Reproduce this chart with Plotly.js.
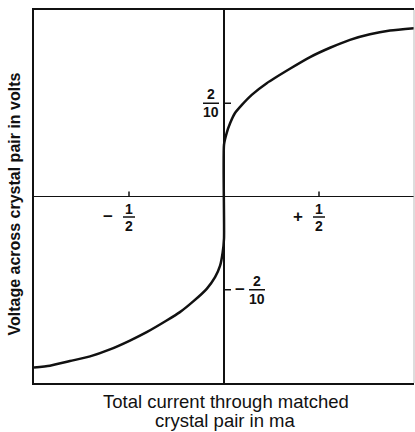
<!DOCTYPE html>
<html>
<head>
<meta charset="utf-8">
<script src="https://cdn.plot.ly/plotly-3.0.1.min.js"></script>
<style>html,body{margin:0;padding:0;background:#fff;}#chart{width:415px;height:432px;}</style>
</head>
<body>
<div id="chart"></div>
<script>
// Data (current in mA, voltage in V)
var currentMa = [-1.0, -0.916, -0.811, -0.705, -0.6, -0.495, -0.407, -0.302, -0.232, -0.162, -0.091, -0.047, -0.021, -0.007, 0,
                 0, 0.014, 0.032, 0.058, 0.093, 0.146, 0.225, 0.347, 0.453, 0.558, 0.663, 0.768, 0.874, 1.0];
var voltageV  = [-0.367, -0.363, -0.353, -0.343, -0.328, -0.309, -0.291, -0.266, -0.248, -0.225, -0.198, -0.173, -0.149, -0.120, -0.09,
                 0.111, 0.136, 0.157, 0.179, 0.196, 0.218, 0.243, 0.274, 0.299, 0.319, 0.336, 0.348, 0.356, 0.361];

// Tick labels (stacked fractions)
var xTickVals = [-0.5, 0.5];
var xTickSigns = ['\u2212', '+'];
var xTickNum = ['1', '1'];
var xTickDen = ['2', '2'];
var yTickVals = [0.2, -0.2];
var yTickSigns = ['', '\u2212'];
var yTickNum = ['2', '2'];
var yTickDen = ['10', '10'];

var xTitleLines = ['Total current through matched', 'crystal pair in ma'];
var yTitle = 'Voltage across crystal pair in volts';

var FONT = '"Liberation Sans", Arial, sans-serif';
var annotations = [];
var shapes = [];
var tickFont = {family: FONT, size: 14, color: '#111'};

xTickVals.forEach(function (v, i) {
  shapes.push({type: 'line', xref: 'x', yref: 'y', xsizemode: 'pixel', ysizemode: 'pixel',
    xanchor: v, yanchor: 0, x0: 0, x1: 0, y0: 0, y1: 5, line: {color: '#111', width: 1.5}});
  annotations.push({x: v, y: 0, xref: 'x', yref: 'y', text: '<b>' + xTickNum[i] + '</b>', showarrow: false,
    font: tickFont, xanchor: 'center', yanchor: 'middle', yshift: -12});
  annotations.push({x: v, y: 0, xref: 'x', yref: 'y', text: '<b>' + xTickDen[i] + '</b>', showarrow: false,
    font: tickFont, xanchor: 'center', yanchor: 'middle', yshift: -29});
  annotations.push({x: v, y: 0, xref: 'x', yref: 'y', text: '<b>' + xTickSigns[i] + '</b>', showarrow: false,
    font: {family: FONT, size: 17, color: '#111'}, xanchor: 'center', yanchor: 'middle', xshift: -21, yshift: -20});
  shapes.push({type: 'line', xref: 'x', yref: 'y', xsizemode: 'pixel', ysizemode: 'pixel',
    xanchor: v, yanchor: 0, x0: -6, x1: 6, y0: -20.5, y1: -20.5, line: {color: '#111', width: 1.5}});
});

yTickVals.forEach(function (v, i) {
  var left = v > 0;
  var cx = left ? -13 : 33;
  shapes.push({type: 'line', xref: 'x', yref: 'y', xsizemode: 'pixel', ysizemode: 'pixel',
    xanchor: 0, yanchor: v, x0: 0, x1: 7, y0: 0, y1: 0, line: {color: '#111', width: 1.5}});
  shapes.push({type: 'line', xref: 'x', yref: 'y', xsizemode: 'pixel', ysizemode: 'pixel',
    xanchor: 0, yanchor: v, x0: cx - 8, x1: cx + 8, y0: 0, y1: 0, line: {color: '#111', width: 1.5}});
  annotations.push({x: 0, y: v, xref: 'x', yref: 'y', text: '<b>' + yTickNum[i] + '</b>', showarrow: false,
    font: tickFont, xanchor: 'center', yanchor: 'middle', xshift: cx, yshift: 9});
  annotations.push({x: 0, y: v, xref: 'x', yref: 'y', text: '<b>' + yTickDen[i] + '</b>', showarrow: false,
    font: tickFont, xanchor: 'center', yanchor: 'middle', xshift: cx, yshift: -9});
  if (yTickSigns[i]) {
    annotations.push({x: 0, y: v, xref: 'x', yref: 'y', text: '<b>' + yTickSigns[i] + '</b>', showarrow: false,
      font: {family: FONT, size: 17, color: '#111'}, xanchor: 'center', yanchor: 'middle', xshift: 16, yshift: 0});
  }
});

// faint right border
shapes.push({type: 'line', xref: 'paper', yref: 'paper', x0: 1, x1: 1, y0: 0, y1: 1,
  line: {color: '#bbb', width: 1}});

xTitleLines.forEach(function (t, i) {
  annotations.push({x: 0.505, y: 0, xref: 'paper', yref: 'paper', text: t, showarrow: false,
    font: {family: FONT, size: 18.5, color: '#111'}, xanchor: 'center', yanchor: 'middle', yshift: -18 - 19 * i});
});
annotations.push({x: 0, y: 0.5, xref: 'paper', yref: 'paper', text: '<b>' + yTitle + '</b>', showarrow: false,
  textangle: -90, font: {family: FONT, size: 16, color: '#111'}, xanchor: 'center', yanchor: 'middle',
  xshift: -20, yshift: -8});

var trace = {
  x: currentMa, y: voltageV, type: 'scatter', mode: 'lines',
  line: {color: '#111', width: 2.5, shape: 'spline', smoothing: 0.6},
  hoverinfo: 'skip'
};

var layout = {
  width: 415, height: 432,
  margin: {l: 34, r: 1, t: 10, b: 49},
  paper_bgcolor: '#fff', plot_bgcolor: '#fff',
  showlegend: false,
  xaxis: {range: [-1, 1], showgrid: false, showticklabels: false, ticks: '',
    zeroline: true, zerolinecolor: '#111', zerolinewidth: 1.5,
    showline: true, linecolor: '#111', linewidth: 2, mirror: true},
  yaxis: {range: [-0.4, 0.4], showgrid: false, showticklabels: false, ticks: '',
    zeroline: true, zerolinecolor: '#111', zerolinewidth: 1.5,
    showline: true, linecolor: '#111', linewidth: 2},
  shapes: shapes,
  annotations: annotations
};

Plotly.newPlot('chart', [trace], layout, {displayModeBar: false, staticPlot: true});
</script>
</body>
</html>
